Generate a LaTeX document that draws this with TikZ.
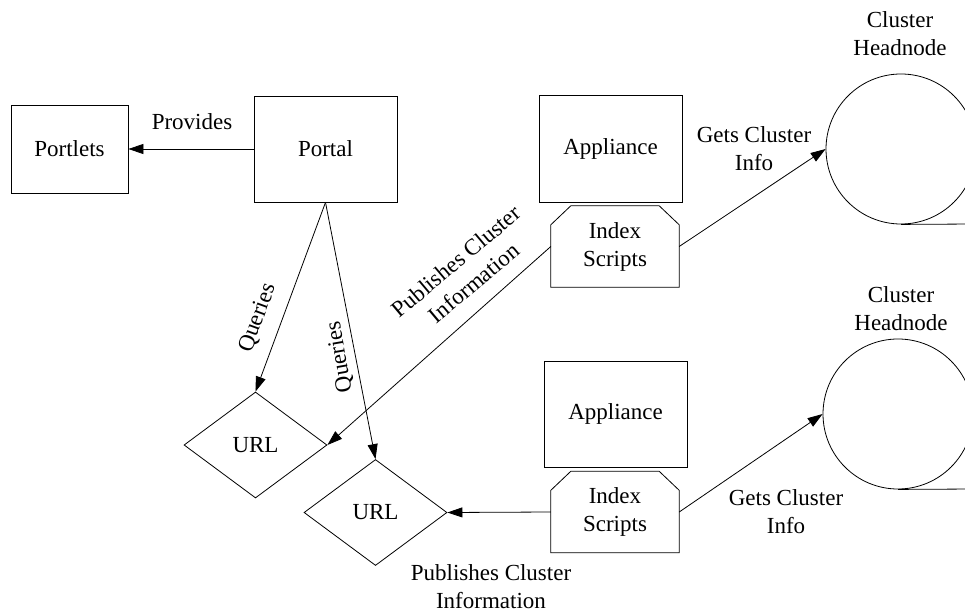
\documentclass[tikz,border=0pt]{standalone}
\usepackage{fontspec}
\setmainfont{Liberation Serif}
\usetikzlibrary{arrows.meta,shapes.geometric}
\begin{document}
\begin{tikzpicture}[x=1pt,y=-1pt,
  every node/.style={font=\fontsize{23}{28}\selectfont},
  box/.style={draw, line width=0.8pt, rectangle, inner sep=0pt},
  urlbox/.style={draw, line width=0.8pt, diamond, minimum width=143pt, minimum height=106pt, inner sep=0pt},
  store/.style={draw, line width=0.8pt, circle, minimum size=150pt, inner sep=0pt},
  script/.style={rectangle, inner sep=0pt, minimum width=128pt, minimum height=81pt, align=center},
  link/.style={line width=0.8pt, -{Triangle[length=15pt,width=10pt]}},
  lbl/.style={align=center, inner sep=0pt}
]
\fill[white] (0,0) rectangle (965,612);
\useasboundingbox (0,0) rectangle (965,612);
\clip (0,0) rectangle (965,612);

% boxes
\node[box, minimum width=117pt, minimum height=88pt] (portlets) at (69.5,149) {Portlets};
\node[box, minimum width=143pt, minimum height=106pt] (portal) at (325.5,149) {Portal};
\node[box, minimum width=143pt, minimum height=107pt] (app1) at (610.5,148.5) {Appliance};
\node[script] (idx1) at (615,246.5) {Index\\Scripts};
\node[box, minimum width=143pt, minimum height=106pt] (app2) at (615.5,414) {Appliance};
\node[script] (idx2) at (615,512) {Index\\Scripts};

% URL diamonds
\node[urlbox] (url1) at (255.5,445) {URL};
\node[urlbox] (url2) at (375.5,512.5) {URL};

% cluster headnodes (sequential storage symbol)
\node[store] (head1) at (901,149) {};
\node[store] (head2) at (898,414) {};
\coordinate (tail1) at (975,224);
\coordinate (tail2) at (975,489);
\draw[line width=0.8pt] (head1.south) -- (tail1);
\draw[line width=0.8pt] (head2.south) -- (tail2);

% chamfered outlines of the index script boxes
\foreach \n in {idx1,idx2}
  \draw[line width=0.8pt] (\n.south west) -- ([yshift=-19pt]\n.north west)
    -- ([xshift=20pt]\n.north west) -- ([xshift=-20pt]\n.north east)
    -- ([yshift=-19pt]\n.north east) -- (\n.south east) -- cycle;

% connectors
\draw[link] (portal.west) -- (portlets.east);
\draw[link] (portal.south) -- (url1.north);
\draw[link] (portal.south) -- (url2.north);
\draw[link] (idx1.west) -- (url1.east);
\draw[link] (idx2.west) -- (url2.east);
\draw[link] (idx1.east) -- (head1.west);
\draw[link] (idx2.east) -- (head2.west);

% connector labels
\node[lbl] (provides) at (192,122) {Provides};
\node[lbl, rotate=70] (q1) at (258,318) {Queries};
\node[lbl, rotate=100] (q2) at (340,357) {Queries};
\node[lbl, rotate=40] (pub1) at (465,272) {Publishes Cluster\\Information};
\node[lbl] (pub2) at (491,587) {Publishes Cluster\\Information};
\node[lbl] (gets1) at (754,149) {Gets Cluster\\Info};
\node[lbl] (gets2) at (786,512) {Gets Cluster\\Info};
\node[lbl] (hn1) at (900,34) {Cluster\\Headnode};
\node[lbl] (hn2) at (901,309) {Cluster\\Headnode};
\end{tikzpicture}
\end{document}
